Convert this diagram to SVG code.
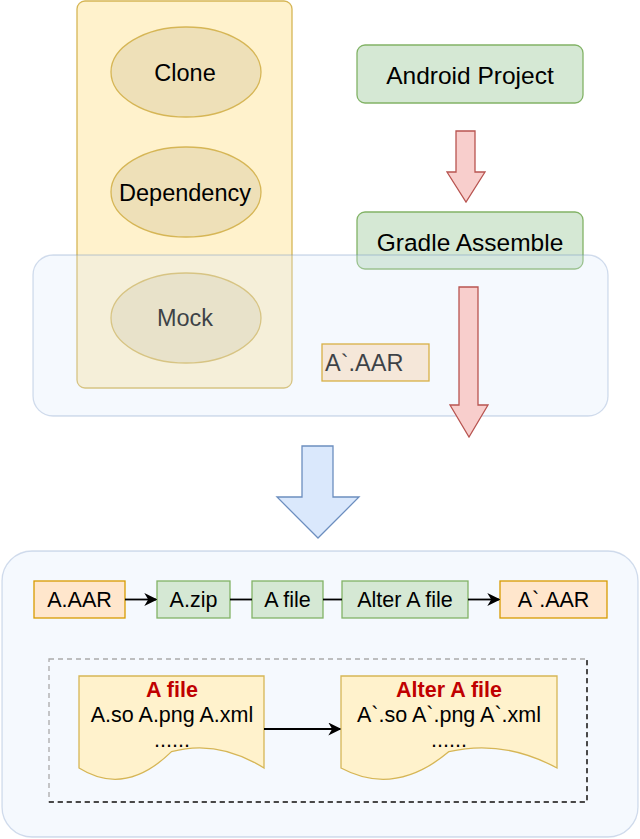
<svg xmlns="http://www.w3.org/2000/svg" width="640" height="839" viewBox="0 0 640 839">
<defs>
<style>
text{font-family:"Liberation Sans",Arial,sans-serif;fill:#000;text-anchor:middle}
.yel{fill:#fff2cc;stroke:#d6b656;stroke-width:1.3}
.ell{fill:#eee0b8;stroke:#d6b656;stroke-width:1.3}
.grn{fill:#d5e8d4;stroke:#82b366;stroke-width:1.3}
.org{fill:#ffe6cc;stroke:#d79b00;stroke-width:1.3}
.red{fill:#f8cecc;stroke:#b85450;stroke-width:1.3}
.blu{fill:#dae8fc;stroke:#6c8ebf;stroke-width:1.3}
.ov{fill:#dae8fc;fill-opacity:0.28;stroke:#6c8ebf;stroke-opacity:0.3;stroke-width:1.3}
.big{font-size:23.5px}
.mid{font-size:21.5px}
.ln{stroke:#000;stroke-width:1.8;fill:none}
.rt{fill:#c00000;font-weight:bold}
</style>
<marker id="ah" viewBox="0 0 10 10" refX="9" refY="5" markerWidth="13" markerHeight="13" markerUnits="userSpaceOnUse" orient="auto">
<path d="M0,0 L10,5 L0,10 L3,5 Z" fill="#000"/>
</marker>
</defs>
<rect width="640" height="839" fill="#fff"/>

<g id="tools">
<rect class="yel" x="77" y="1" width="215" height="387" rx="8"/>
</g>
<g id="clone">
<ellipse class="ell" cx="186" cy="72" rx="75" ry="45"/>
<text class="big" x="185" y="81">Clone</text>
</g>
<g id="dependency">
<ellipse class="ell" cx="186" cy="192" rx="75" ry="45"/>
<text class="big" x="185" y="201">Dependency</text>
</g>
<g id="mock">
<ellipse class="ell" cx="186" cy="318" rx="75" ry="45"/>
<text class="big" x="185" y="326">Mock</text>
</g>
<g id="android-project">
<rect class="grn" x="357" y="45" width="226" height="58" rx="8"/>
<text x="470" y="84" style="font-size:24.5px">Android Project</text>
</g>
<g id="gradle-assemble">
<rect class="grn" x="357" y="212" width="226" height="57" rx="8"/>
<text x="470" y="251" style="font-size:24.5px">Gradle Assemble</text>
</g>
<g id="aar-out-top">
<rect class="org" x="322" y="344" width="107" height="37"/>
<text class="big" x="325" y="371" style="text-anchor:start">A`.AAR</text>
</g>
<g id="build-area">
<rect class="ov" x="33" y="255" width="575" height="161" rx="20"/>
</g>

<g id="connectors">
<path class="red" d="M456,131 H475 V172 H485 L466,202 L447,172 H456 Z"/>
<path class="red" d="M459,287 H478 V405 H488 L469,437 L450,405 H459 Z"/>
<path class="blu" d="M302,446 H333 V497 H359 L318,538 L277,497 H302 Z"/>
</g>

<g id="process-area">
<rect class="ov" x="2" y="551" width="636" height="286" rx="30"/>
<rect x="49" y="659" width="538" height="143" fill="none" stroke="#aaa" stroke-width="1.3" stroke-dasharray="5,4"/>
<path d="M49,802 H587 V659" fill="none" stroke="#222" stroke-width="1.5" stroke-dasharray="5,4"/>
</g>

<g id="a-aar">
<rect class="org" x="34" y="581" width="91" height="37"/>
<text class="mid" x="79.5" y="607">A.AAR</text>
</g>
<g id="a-zip">
<rect class="grn" x="157" y="581" width="73" height="37"/>
<text class="mid" x="193.5" y="607">A.zip</text>
</g>
<g id="a-file">
<rect class="grn" x="252" y="581" width="71" height="37"/>
<text class="mid" x="287.5" y="607">A file</text>
</g>
<g id="alter-a-file">
<rect class="grn" x="342" y="581" width="126" height="37"/>
<text class="mid" x="405" y="607">Alter A file</text>
</g>
<g id="a-aar-out">
<rect class="org" x="500" y="581" width="107" height="37"/>
<text class="mid" x="553.5" y="607">A`.AAR</text>
</g>

<g id="doc-a">
<path class="yel" d="M79,676 H264 V768 Q217.75,739 171.5,751.6 Q125.25,797 79,768 Z"/>
<text class="mid rt" x="172" y="697">A file</text>
<text class="mid" x="172" y="722">A.so A.png A.xml</text>
<text class="mid" x="172" y="747">......</text>
</g>
<g id="doc-alter">
<path class="yel" d="M341,676 H557 V768 Q503,739 449,751.6 Q395,797 341,768 Z"/>
<text class="mid rt" x="449" y="697">Alter A file</text>
<text class="mid" x="449" y="722">A`.so A`.png A`.xml</text>
<text class="mid" x="449" y="747">......</text>
</g>

<g id="row-connectors">
<line class="ln" x1="125" y1="599.5" x2="156" y2="599.5" marker-end="url(#ah)"/>
<line class="ln" x1="230" y1="599.5" x2="252" y2="599.5"/>
<line class="ln" x1="323" y1="599.5" x2="342" y2="599.5"/>
<line class="ln" x1="468" y1="599.5" x2="499" y2="599.5" marker-end="url(#ah)"/>
<line class="ln" x1="264" y1="729" x2="340" y2="729" marker-end="url(#ah)"/>
</g>
</svg>
